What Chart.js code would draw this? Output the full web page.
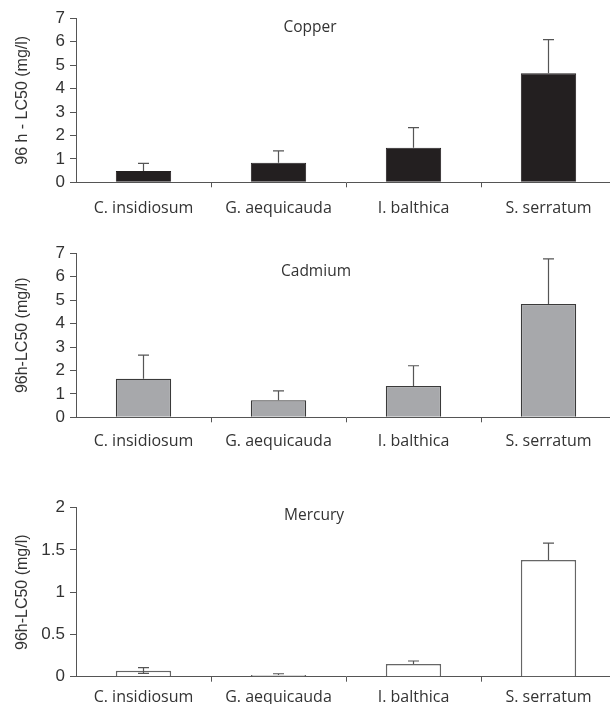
<!DOCTYPE html>
<html>
<head>
<meta charset="utf-8">
<script src="https://cdn.jsdelivr.net/npm/chart.js@4/dist/chart.umd.min.js"></script>
<style>
  html, body { margin: 0; padding: 0; background: #fff; overflow: hidden; }
  #wrap { position: relative; width: 610px; height: 704px; overflow: hidden; background: #fff; }
  canvas { position: absolute; left: 0; }
</style>
</head>
<body>
<div id="wrap">
  <canvas id="c1" width="620" height="230" style="top:0px"></canvas>
  <canvas id="c2" width="620" height="230" style="top:230px"></canvas>
  <canvas id="c3" width="620" height="244" style="top:460px"></canvas>
</div>
<script>
// ---- data ----
const categories = ["C. insidiosum", "G. aequicauda", "I. balthica", "S. serratum"];

const copperValues = [0.48, 0.83, 1.48, 4.65];
const copperErrors = [0.33, 0.51, 0.85, 1.44];
const copperErrorsLow = [0, 0, 0, 0];

const cadmiumValues = [1.65, 0.73, 1.34, 4.84];
const cadmiumErrors = [1.00, 0.40, 0.86, 1.92];
const cadmiumErrorsLow = [0, 0, 0, 0];

const mercuryValues = [0.071, 0.02, 0.15, 1.38];
const mercuryErrors = [0.036, 0.015, 0.036, 0.20];
const mercuryErrorsLow = [0.031, 0, 0, 0];

const copperTicks = [0, 1, 2, 3, 4, 5, 6, 7];
const cadmiumTicks = [0, 1, 2, 3, 4, 5, 6, 7];
const mercuryTicks = [0, 0.5, 1, 1.5, 2];

// ---- drawing ----
const AXIS = '#555';
const TEXT = '#333';

const errorBarPlugin = {
  id: 'errorBars',
  afterDatasetsDraw(chart, args, opts) {
    const ctx = chart.ctx;
    const y = chart.scales.y;
    const meta = chart.getDatasetMeta(0);
    const ds = chart.data.datasets[0];
    ctx.save();
    ctx.strokeStyle = opts.color;
    ctx.lineWidth = 1.2;
    const cap = 5.5;
    meta.data.forEach((bar, i) => {
      const v = ds.data[i];
      const up = y.getPixelForValue(v + opts.up[i]);
      const lowV = opts.low[i];
      const start = lowV > 0 ? y.getPixelForValue(v - lowV) : bar.y;
      ctx.beginPath();
      ctx.moveTo(bar.x, start);
      ctx.lineTo(bar.x, up);
      ctx.moveTo(bar.x - cap, up);
      ctx.lineTo(bar.x + cap, up);
      if (lowV > 0) {
        ctx.moveTo(bar.x - cap, start);
        ctx.lineTo(bar.x + cap, start);
      }
      ctx.stroke();
    });
    ctx.restore();
  }
};

const panelTitlePlugin = {
  id: 'panelTitle',
  afterDraw(chart, args, opts) {
    const ctx = chart.ctx;
    ctx.save();
    ctx.fillStyle = TEXT;
    ctx.font = '15.5px "Open Sans"';
    ctx.textAlign = 'center';
    ctx.textBaseline = 'middle';
    ctx.fillText(opts.text, opts.x, opts.y);
    ctx.restore();
  }
};

function makePanel(id, values, errUp, errLow, title, yTitle, ticks, style, geo) {
  const canvas = document.getElementById(id);
  const H = canvas.height;
  new Chart(canvas, {
    type: 'bar',
    data: {
      labels: categories,
      datasets: [{
        data: values,
        backgroundColor: style.fill,
        borderColor: style.border,
        borderWidth: style.bw,
        categoryPercentage: 1.0,
        barPercentage: 0.41
      }]
    },
    options: {
      responsive: false,
      animation: false,
      events: [],
      layout: { padding: { left: 0, right: 4, top: geo.top, bottom: 0 } },
      plugins: {
        legend: { display: false },
        tooltip: { enabled: false },
        title: { display: false },
        errorBars: { up: errUp, low: errLow, color: style.err },
        panelTitle: { text: title, x: geo.tx, y: geo.ty }
      },
      scales: {
        x: {
          offset: true,
          grid: {
            display: true, drawOnChartArea: false, drawTicks: true, tickLength: 5, offset: true,
            color: (c) => (c.index === 0 ? 'rgba(0,0,0,0)' : AXIS)
          },
          border: { display: true, color: AXIS, width: 1 },
          ticks: { color: TEXT, font: { family: '"Open Sans"', size: 16 }, padding: geo.xpad, maxRotation: 0, autoSkip: false },
          afterFit(scale) { scale.height = H - geo.bottom; }
        },
        y: {
          min: ticks[0],
          max: ticks[ticks.length - 1],
          afterBuildTicks(scale) { scale.ticks = ticks.map(v => ({ value: v })); },
          grid: { display: true, drawOnChartArea: false, drawTicks: true, tickLength: 6, color: AXIS },
          border: { display: true, color: AXIS, width: 1 },
          ticks: {
            color: TEXT, font: { family: '"Liberation Sans", Arial', size: 17 }, padding: 5,
            callback: (v) => String(v)
          },
          title: { display: true, text: yTitle, color: TEXT, font: { family: '"Liberation Sans", Arial', size: 16 }, padding: { top: 13, bottom: 0 } },
          afterFit(scale) { scale.width = 76; }
        }
      }
    },
    plugins: [errorBarPlugin, panelTitlePlugin]
  });
}

makePanel('c1', copperValues, copperErrors, copperErrorsLow, 'Copper', '96 h - LC50 (mg/l)', copperTicks,
  { fill: '#231f20', border: '#231f20', bw: 1, err: '#555' },
  { top: 18.3, bottom: 182.3, tx: 310, ty: 28, xpad: 12 });

makePanel('c2', cadmiumValues, cadmiumErrors, cadmiumErrorsLow, 'Cadmium', '96h-LC50 (mg/l)', cadmiumTicks,
  { fill: '#a7a8ab', border: '#3a3a3a', bw: 1.3, err: '#555' },
  { top: 23.3, bottom: 187.3, tx: 316, ty: 42, xpad: 10 });

makePanel('c3', mercuryValues, mercuryErrors, mercuryErrorsLow, 'Mercury', '96h-LC50 (mg/l)', mercuryTicks,
  { fill: '#ffffff', border: '#666', bw: 1.5, err: '#555' },
  { top: 47.7, bottom: 216.7, tx: 314, ty: 56, xpad: 6 });
</script>
</body>
</html>
